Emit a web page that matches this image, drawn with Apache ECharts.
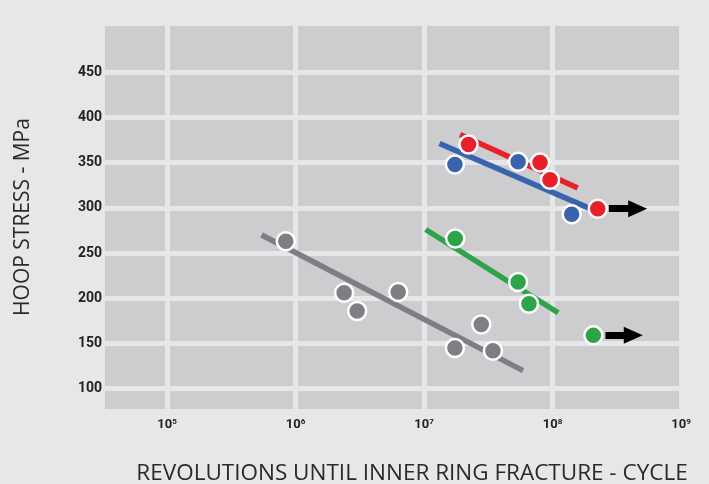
<!DOCTYPE html>
<html>
<head>
<meta charset="utf-8">
<script src="https://cdn.jsdelivr.net/npm/echarts@6/dist/echarts.min.js"></script>
<style>
html,body{margin:0;padding:0;background:#e6e7e9;}
#c{width:709px;height:484px;}
</style>
</head>
<body>
<div id="c"></div>
<script>
// Tick values
const xTicks = [1e5, 1e6, 1e7, 1e8, 1e9];
const yTicks = [100, 150, 200, 250, 300, 350, 400, 450];

// Gray series
const grayX = [8.4e5, 2.39e6, 3.02e6, 6.3e6, 1.74e7, 2.79e7, 3.44e7];
const grayY = [263, 206, 186, 207, 145, 171, 142];
const grayFitX = [5.45e5, 5.9e7];
const grayFitY = [270, 120];

// Blue series
const blueX = [1.74e7, 5.4e7, 1.41e8];
const blueY = [348, 351, 293];
const blueFitX = [1.32e7, 2.05e8];
const blueFitY = [371, 298];

// Red series
const redX = [2.22e7, 8.0e7, 9.57e7, 2.25e8];
const redY = [370, 350, 331, 299];
const redFitX = [1.91e7, 1.57e8];
const redFitY = [381, 322];

// Green series
const greenX = [1.75e7, 5.4e7, 6.56e7, 2.08e8];
const greenY = [266, 218, 194, 159];
const greenFitX = [1.03e7, 1.107e8];
const greenFitY = [276, 184];

// Run-out arrows (start x, end x, y)
const arrowRed = [2.74e8, 4.6e8, 299];
const arrowGreen = [2.58e8, 4.25e8, 159];

const C = {gray:'#7e7f82', blue:'#3a63ad', red:'#e8202a', green:'#2ea44a'};
const zip = (a,b) => a.map((v,i)=>[v,b[i]]);

function fit(xs, ys, color){
  return {type:'line', data:zip(xs,ys), symbol:'none', silent:true, z:2,
    lineStyle:{color:color, width:5.5, cap:'butt'}};
}
function pts(xs, ys, color, z){
  return {type:'scatter', data:zip(xs,ys), symbol:'circle', symbolSize:18, z:z, silent:true,
    itemStyle:{color:color, borderColor:'#ffffff', borderWidth:2.5, opacity:1}};
}
function arrow(a){
  return [{coord:[a[0], a[2]]},{coord:[a[1], a[2]]}];
}

const chart = echarts.init(document.getElementById('c'), null, {renderer:'canvas'});
chart.setOption({
  backgroundColor:'#e6e7e9',
  animation:false,
  grid:{left:105, right:28, top:26, bottom:75, show:true, backgroundColor:'#cdcdd0', borderWidth:0},
  xAxis:{
    type:'log', logBase:10, min:32930, max:1e9,
    axisLine:{show:false},
    axisTick:{show:false, customValues:xTicks},
    splitLine:{show:true, lineStyle:{color:'#e6e7e9', width:5}},
    axisLabel:{
      customValues:xTicks, margin:9,
      formatter:function(v){ return '{b|10}{s|' + Math.round(Math.log10(v)) + '}'; },
      rich:{
        b:{fontFamily:'Roboto', fontWeight:'bold', fontSize:13, color:'#222'},
        s:{fontFamily:'Roboto', fontWeight:'bold', fontSize:8, color:'#222', padding:[0,0,6,0]}
      }
    }
  },
  yAxis:{
    type:'value', min:77.6, max:501,
    axisLine:{show:false},
    axisTick:{show:false, customValues:yTicks},
    splitLine:{show:true, lineStyle:{color:'#e6e7e9', width:5}},
    axisLabel:{customValues:yTicks, margin:3, fontFamily:'Roboto', fontWeight:'bold', fontSize:14, color:'#222'}
  },
  graphic:[
    {type:'text', x:412, y:474, silent:true,
      style:{text:'REVOLUTIONS UNTIL INNER RING FRACTURE - CYCLE', textAlign:'center', textVerticalAlign:'middle',
        fontFamily:'Open Sans', fontSize:22.5, fill:'#2a2a2a'}},
    {type:'text', x:23, y:217, rotation:Math.PI/2, silent:true,
      style:{text:'HOOP STRESS - MPa', textAlign:'center', textVerticalAlign:'middle',
        fontFamily:'Open Sans', fontSize:21, fill:'#2a2a2a'}}
  ],
  series:[
    fit(grayFitX, grayFitY, C.gray),
    fit(blueFitX, blueFitY, C.blue),
    fit(redFitX, redFitY, C.red),
    fit(greenFitX, greenFitY, C.green),
    {type:'line', data:[], z:3, silent:true,
      markLine:{silent:true, symbol:['none','triangle'], symbolSize:[17,19], label:{show:false},
        lineStyle:{color:'#000', width:7, type:'solid'},
        emphasis:{disabled:true},
        data:[arrow(arrowRed), arrow(arrowGreen)]}},
    pts(grayX, grayY, C.gray, 5),
    pts(blueX, blueY, C.blue, 5),
    pts(greenX, greenY, C.green, 5),
    pts(redX, redY, C.red, 6)
  ]
});
</script>
</body>
</html>
